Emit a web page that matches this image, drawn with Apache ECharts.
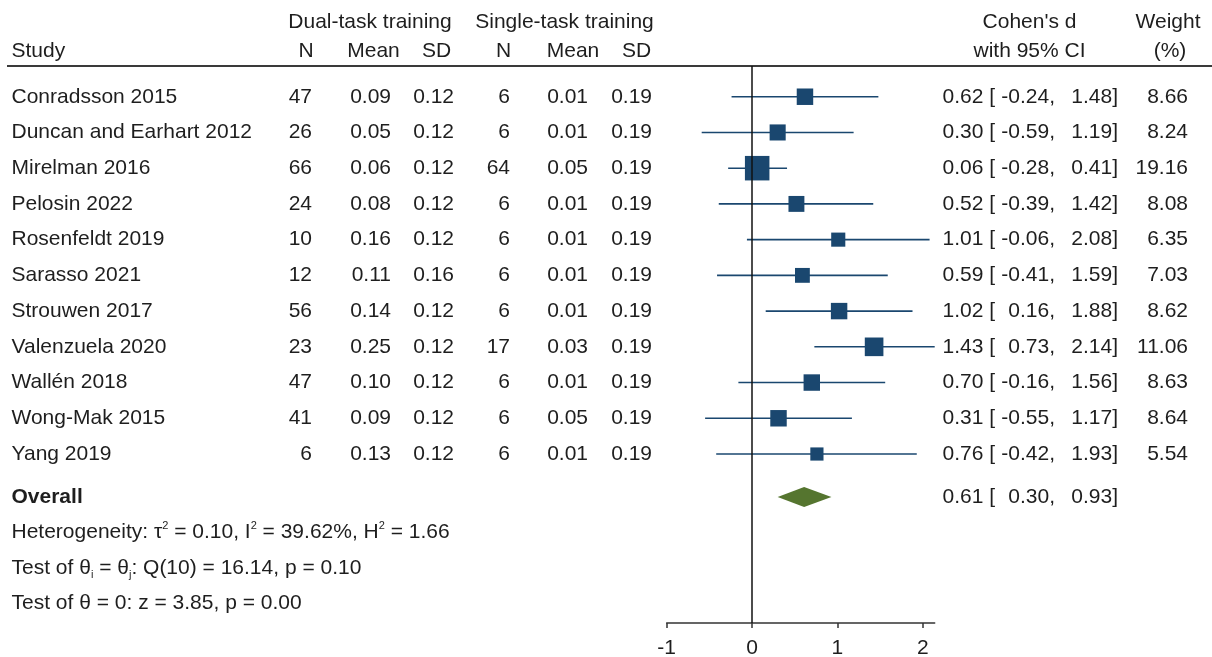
<!DOCTYPE html>
<html>
<head>
<meta charset="utf-8">
<script src="https://cdn.jsdelivr.net/npm/echarts@6/dist/echarts.min.js"></script>
<style>
html,body{margin:0;padding:0;background:#fff;}
#chart{width:1212px;height:657px;}
</style>
</head>
<body>
<div id="chart"></div>
<script>
// ---------------- data ----------------
const studies = ["Conradsson 2015","Duncan and Earhart 2012","Mirelman 2016","Pelosin 2022","Rosenfeldt 2019","Sarasso 2021","Strouwen 2017","Valenzuela 2020","Wallén 2018","Wong-Mak 2015","Yang 2019"];
const dualN = [47,26,66,24,10,12,56,23,47,41,6];
const dualMean = [0.09,0.05,0.06,0.08,0.16,0.11,0.14,0.25,0.10,0.09,0.13];
const dualSD = [0.12,0.12,0.12,0.12,0.12,0.16,0.12,0.12,0.12,0.12,0.12];
const singleN = [6,6,64,6,6,6,6,17,6,6,6];
const singleMean = [0.01,0.01,0.05,0.01,0.01,0.01,0.01,0.03,0.01,0.05,0.01];
const singleSD = [0.19,0.19,0.19,0.19,0.19,0.19,0.19,0.19,0.19,0.19,0.19];
const cohenD = [0.62,0.30,0.06,0.52,1.01,0.59,1.02,1.43,0.70,0.31,0.76];
const ciLow = [-0.24,-0.59,-0.28,-0.39,-0.06,-0.41,0.16,0.73,-0.16,-0.55,-0.42];
const ciHigh = [1.48,1.19,0.41,1.42,2.08,1.59,1.88,2.14,1.56,1.17,1.93];
const weights = [8.66,8.24,19.16,8.08,6.35,7.03,8.62,11.06,8.63,8.64,5.54];
const overallD = 0.61, overallLow = 0.30, overallHigh = 0.93;
const xTicks = [-1,0,1,2];
const footerTexts = [
  "Heterogeneity: τ{sup|2} = 0.10, I{sup|2} = 39.62%, H{sup|2} = 1.66",
  "Test of θ{sub|i} = θ{sub|j}: Q(10) = 16.14, p = 0.10",
  "Test of θ = 0: z = 3.85, p = 0.00"
];

// ---------------- layout ----------------
const FONT = "'Liberation Sans', Arial, Helvetica, sans-serif";
const FS = 21;
const TXT = '#1e1e1e';
const NAVY = '#1A476F';
const GREEN = '#55752F';
const ROW_OVERALL = 11.2;
const FOOTER_ROWS = [12.2, 13.2, 14.18];
const COL = {study:11.5, n1:312, m1:391, sd1:454, n2:510, m2:588, sd2:652, est:995, lo:1055, hi:1118, w:1188};

const f2 = v => v.toFixed(2);

const tableRows = studies.map((s,i) => ({row:i, cells:[
  {x:COL.study, t:s, a:'left'},
  {x:COL.n1, t:String(dualN[i]), a:'right'},
  {x:COL.m1, t:f2(dualMean[i]), a:'right'},
  {x:COL.sd1, t:f2(dualSD[i]), a:'right'},
  {x:COL.n2, t:String(singleN[i]), a:'right'},
  {x:COL.m2, t:f2(singleMean[i]), a:'right'},
  {x:COL.sd2, t:f2(singleSD[i]), a:'right'},
  {x:COL.est, t:f2(cohenD[i]) + ' [', a:'right'},
  {x:COL.lo, t:f2(ciLow[i]) + ',', a:'right'},
  {x:COL.hi, t:f2(ciHigh[i]) + ']', a:'right'},
  {x:COL.w, t:f2(weights[i]), a:'right'}
]}));
tableRows.push({row:ROW_OVERALL, cells:[
  {x:COL.study, t:'Overall', a:'left', bold:true},
  {x:COL.est, t:f2(overallD) + ' [', a:'right'},
  {x:COL.lo, t:f2(overallLow) + ',', a:'right'},
  {x:COL.hi, t:f2(overallHigh) + ']', a:'right'}
]});

function textEl(x, y, text, align, bold){
  return {type:'text', x:x, y:y, silent:true, style:{
    text:text, fill:TXT, font:(bold?'bold ':'') + FS + 'px ' + FONT,
    fontSize:FS, fontFamily:FONT, fontWeight:bold?'bold':'normal',
    align:align, textAlign:align, verticalAlign:'middle', textVerticalAlign:'middle'
  }};
}

const headerEls = [
  textEl(370, 22, 'Dual-task training', 'center'),
  textEl(564.5, 22, 'Single-task training', 'center'),
  textEl(1029.5, 22, "Cohen's d", 'center'),
  textEl(1168, 22, 'Weight', 'center'),
  textEl(11.5, 51.5, 'Study', 'left'),
  textEl(306, 51.5, 'N', 'center'),
  textEl(373.5, 51.5, 'Mean', 'center'),
  textEl(436.5, 51.5, 'SD', 'center'),
  textEl(503.5, 51.5, 'N', 'center'),
  textEl(573, 51.5, 'Mean', 'center'),
  textEl(636.5, 51.5, 'SD', 'center'),
  textEl(1029.5, 51.5, 'with 95% CI', 'center'),
  textEl(1170, 51.5, '(%)', 'center'),
  {type:'line', silent:true, shape:{x1:7, y1:66, x2:1212, y2:66}, style:{stroke:'#3a3a3a', lineWidth:2}}
];

const chart = echarts.init(document.getElementById('chart'), null, {renderer:'canvas'});
chart.setOption({
  animation:false,
  backgroundColor:'#ffffff',
  textStyle:{fontFamily:FONT},
  grid:{left:666.7, right:277.3, top:66, bottom:34, containLabel:false, outerBoundsMode:'none'},
  xAxis:{
    type:'value', min:-1, max:2.14,
    splitLine:{show:false},
    axisLine:{show:true, onZero:false, lineStyle:{color:'#333', width:1.5}},
    axisTick:{show:true, customValues:xTicks, length:5, lineStyle:{color:'#333', width:1.5}},
    axisLabel:{customValues:xTicks, fontSize:FS, color:TXT, margin:15, fontFamily:FONT}
  },
  yAxis:{type:'value', inverse:true, min:-0.86, max:14.73, show:false},
  graphic:{elements:headerEls},
  series:[
    {
      type:'custom', name:'CI', z:2,
      data: studies.map((s,i) => [ciLow[i], ciHigh[i], i]),
      encode:{x:[0,1], y:2},
      renderItem:(params, api) => {
        const a = api.coord([api.value(0), api.value(2)]);
        const b = api.coord([api.value(1), api.value(2)]);
        return {type:'line', shape:{x1:a[0], y1:a[1], x2:b[0], y2:b[1]}, style:{stroke:NAVY, lineWidth:1.6}};
      }
    },
    {
      type:'scatter', name:"Cohen's d", z:3,
      symbol:'rect',
      symbolSize: v => 5.6 * Math.sqrt(v[2]),
      itemStyle:{color:NAVY, opacity:1},
      data: studies.map((s,i) => [cohenD[i], i, weights[i]]),
      markLine:{
        silent:true, symbol:['none','none'], label:{show:false},
        lineStyle:{color:'#111', width:1.5, type:'solid'},
        data:[{xAxis:0}]
      }
    },
    {
      type:'custom', name:'Overall', z:3,
      data:[[overallLow, overallD, overallHigh, ROW_OVERALL]],
      encode:{x:[0,1,2], y:3},
      renderItem:(params, api) => {
        const r = api.value(3);
        const l = api.coord([api.value(0), r]);
        const m = api.coord([api.value(1), r]);
        const h = api.coord([api.value(2), r]);
        const hh = 10;
        return {type:'polygon', shape:{points:[[l[0],l[1]],[m[0],m[1]-hh],[h[0],h[1]],[m[0],m[1]+hh]]}, style:{fill:GREEN}};
      }
    },
    {
      type:'custom', name:'table', z:4, silent:true,
      data: tableRows.map(r => [0, r.row]),
      encode:{x:0, y:1},
      renderItem:(params, api) => {
        const r = tableRows[params.dataIndex];
        const y = api.coord([0, r.row])[1];
        return {type:'group', children: r.cells.map(c => textEl(c.x, y, c.t, c.a, c.bold))};
      }
    },
    {
      type:'custom', name:'footer', z:4, silent:true,
      data: FOOTER_ROWS.map(v => [0, v]),
      encode:{x:0, y:1},
      renderItem:(params, api) => {
        const y = api.coord([0, FOOTER_ROWS[params.dataIndex]])[1];
        return {type:'text', x:COL.study, y:y, silent:true, style:{
          text: footerTexts[params.dataIndex],
          fill:TXT, fontSize:FS, fontFamily:FONT, font: FS + 'px ' + FONT,
          align:'left', textAlign:'left', verticalAlign:'middle', textVerticalAlign:'middle',
          rich:{
            sup:{fontSize:11, fontFamily:FONT, fill:TXT, verticalAlign:'top', lineHeight:24},
            sub:{fontSize:11, fontFamily:FONT, fill:TXT, verticalAlign:'bottom', lineHeight:24}
          }
        }};
      }
    }
  ]
});
</script>
</body>
</html>
